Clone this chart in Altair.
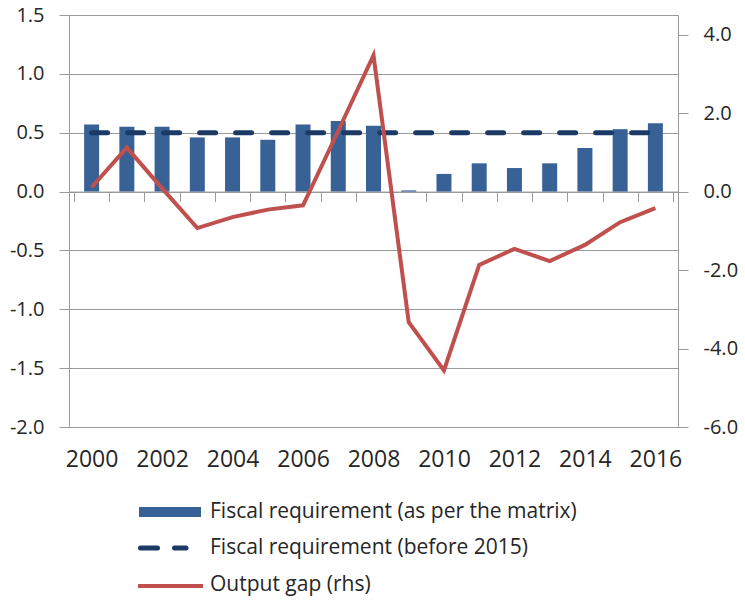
import altair as alt
import pandas as pd

# Series, one value per year
years = [2000, 2001, 2002, 2003, 2004, 2005, 2006, 2007, 2008,
         2009, 2010, 2011, 2012, 2013, 2014, 2015, 2016]
fiscal_matrix = [0.57, 0.55, 0.55, 0.46, 0.46, 0.44, 0.57, 0.60, 0.56,
                 0.01, 0.15, 0.24, 0.20, 0.24, 0.37, 0.53, 0.58]
fiscal_before_2015 = [0.5, 0.5, 0.5, 0.5, 0.5, 0.5, 0.5, 0.5, 0.5,
                      0.5, 0.5, 0.5, 0.5, 0.5, 0.5, 0.5, 0.5]
output_gap = [0.11, 1.12, 0.08, -0.93, -0.65, -0.46, -0.35, 1.55, 3.47,
              -3.33, -4.56, -1.87, -1.46, -1.77, -1.36, -0.78, -0.42]

# Axis ticks
year_labels = [2000, 2002, 2004, 2006, 2008, 2010, 2012, 2014, 2016]
left_ticks = [-2.0, -1.5, -1.0, -0.5, 0.0, 0.5, 1.0, 1.5]
right_ticks = [-6.0, -4.0, -2.0, 0.0, 2.0, 4.0]
category_edges = [y - 0.5 for y in years] + [years[-1] + 0.5]

legend_labels = ["Fiscal requirement (as per the matrix)",
                 "Fiscal requirement (before 2015)",
                 "Output gap (rhs)"]

df = pd.DataFrame({"year": years, "matrix": fiscal_matrix,
                   "before": fiscal_before_2015, "gap": output_gap})

W, H = 609, 412
FONT = "Open Sans"
TEXT = "#262626"
GRID = "#9a9a9a"
BLUE = "#386296"
NAVY = "#1c3a66"
RED = "#c0504d"

left_dom = [-2.0, 1.5]
right_dom = [-6.0, 4.5]
zero_from_bottom = H * (0 - left_dom[0]) / (left_dom[1] - left_dom[0])

x_scale = alt.Scale(domain=[years[0] - 0.5, years[-1] + 0.5], nice=False, zero=False)
minus_fix = "replace(format(datum.value, '.1f'), '\u2212', '-')"

label_axis = alt.Axis(values=year_labels, format="d", orient="bottom", domain=False,
                      ticks=False, tickSize=0, grid=False, title=None,
                      labelFontSize=23, labelFont=FONT, labelColor=TEXT,
                      labelPadding=21, labelFlush=False, labelOverlap=False)
zero_axis = alt.Axis(values=category_edges, orient="bottom", offset=-zero_from_bottom,
                     labels=False, ticks=True, tickSize=10, tickColor=GRID,
                     domain=True, domainColor=GRID, grid=False, title=None)
left_axis = alt.Axis(values=left_ticks, labelExpr=minus_fix, orient="left",
                     grid=True, gridColor=GRID, domainColor=GRID, tickColor=GRID,
                     tickSize=10, labelFontSize=20, labelFont=FONT, labelColor=TEXT,
                     labelPadding=15, title=None, labelFlush=False)
right_axis = alt.Axis(values=right_ticks, labelExpr=minus_fix, orient="right",
                      grid=False, domainColor=GRID, tickColor=GRID, tickSize=10,
                      labelFontSize=20, labelFont=FONT, labelColor=TEXT,
                      labelPadding=15, title=None, labelFlush=False)

base = alt.Chart(df)

bars = base.mark_bar(size=15, color=BLUE).encode(
    x=alt.X("year:Q", scale=x_scale, axis=label_axis),
    y=alt.Y("matrix:Q", scale=alt.Scale(domain=left_dom, nice=False), axis=left_axis),
)

dashed = base.mark_line(color=NAVY, strokeWidth=5, strokeDash=[16, 20],
                        strokeCap="round").encode(
    x=alt.X("year:Q", scale=x_scale, axis=zero_axis),
    y=alt.Y("before:Q", scale=alt.Scale(domain=left_dom, nice=False), axis=None),
)

gap_line = base.mark_line(color=RED, strokeWidth=4).encode(
    x=alt.X("year:Q", scale=x_scale, axis=None),
    y=alt.Y("gap:Q", scale=alt.Scale(domain=right_dom, nice=False), axis=right_axis),
)

# Legend below the plot
def legend_text(label, ypos):
    return alt.Chart(pd.DataFrame({"label": [label]})).mark_text(
        align="left", baseline="middle", font=FONT, fontSize=21, color=TEXT
    ).encode(x=alt.value(141), y=alt.value(ypos), text="label:N")

one = pd.DataFrame({"k": [0]})
swatch_bar = alt.Chart(one).mark_rect(color=BLUE).encode(
    x=alt.value(70), x2=alt.value(132), y=alt.value(492), y2=alt.value(502))
swatch_dash = alt.Chart(one).mark_rule(color=NAVY, strokeWidth=5, strokeDash=[17, 17],
                                       strokeCap="round").encode(
    x=alt.value(71.5), x2=alt.value(117), y=alt.value(533))
swatch_line = alt.Chart(one).mark_rule(color=RED, strokeWidth=4).encode(
    x=alt.value(69), x2=alt.value(134), y=alt.value(571))

chart = alt.layer(
    bars, dashed, gap_line,
    swatch_bar, legend_text(legend_labels[0], 497),
    swatch_dash, legend_text(legend_labels[1], 533),
    swatch_line, legend_text(legend_labels[2], 570),
).resolve_scale(
    y="independent"
).resolve_axis(
    x="independent", y="independent"
).properties(
    width=W, height=H,
    padding={"left": 69, "top": 15, "right": 67, "bottom": 174},
    autosize=alt.AutoSizeParams(type="none"),
).configure_view(stroke=None).configure(font=FONT, background="white")

chart.save("out.html", embed_options={"renderer": "svg", "actions": False})
